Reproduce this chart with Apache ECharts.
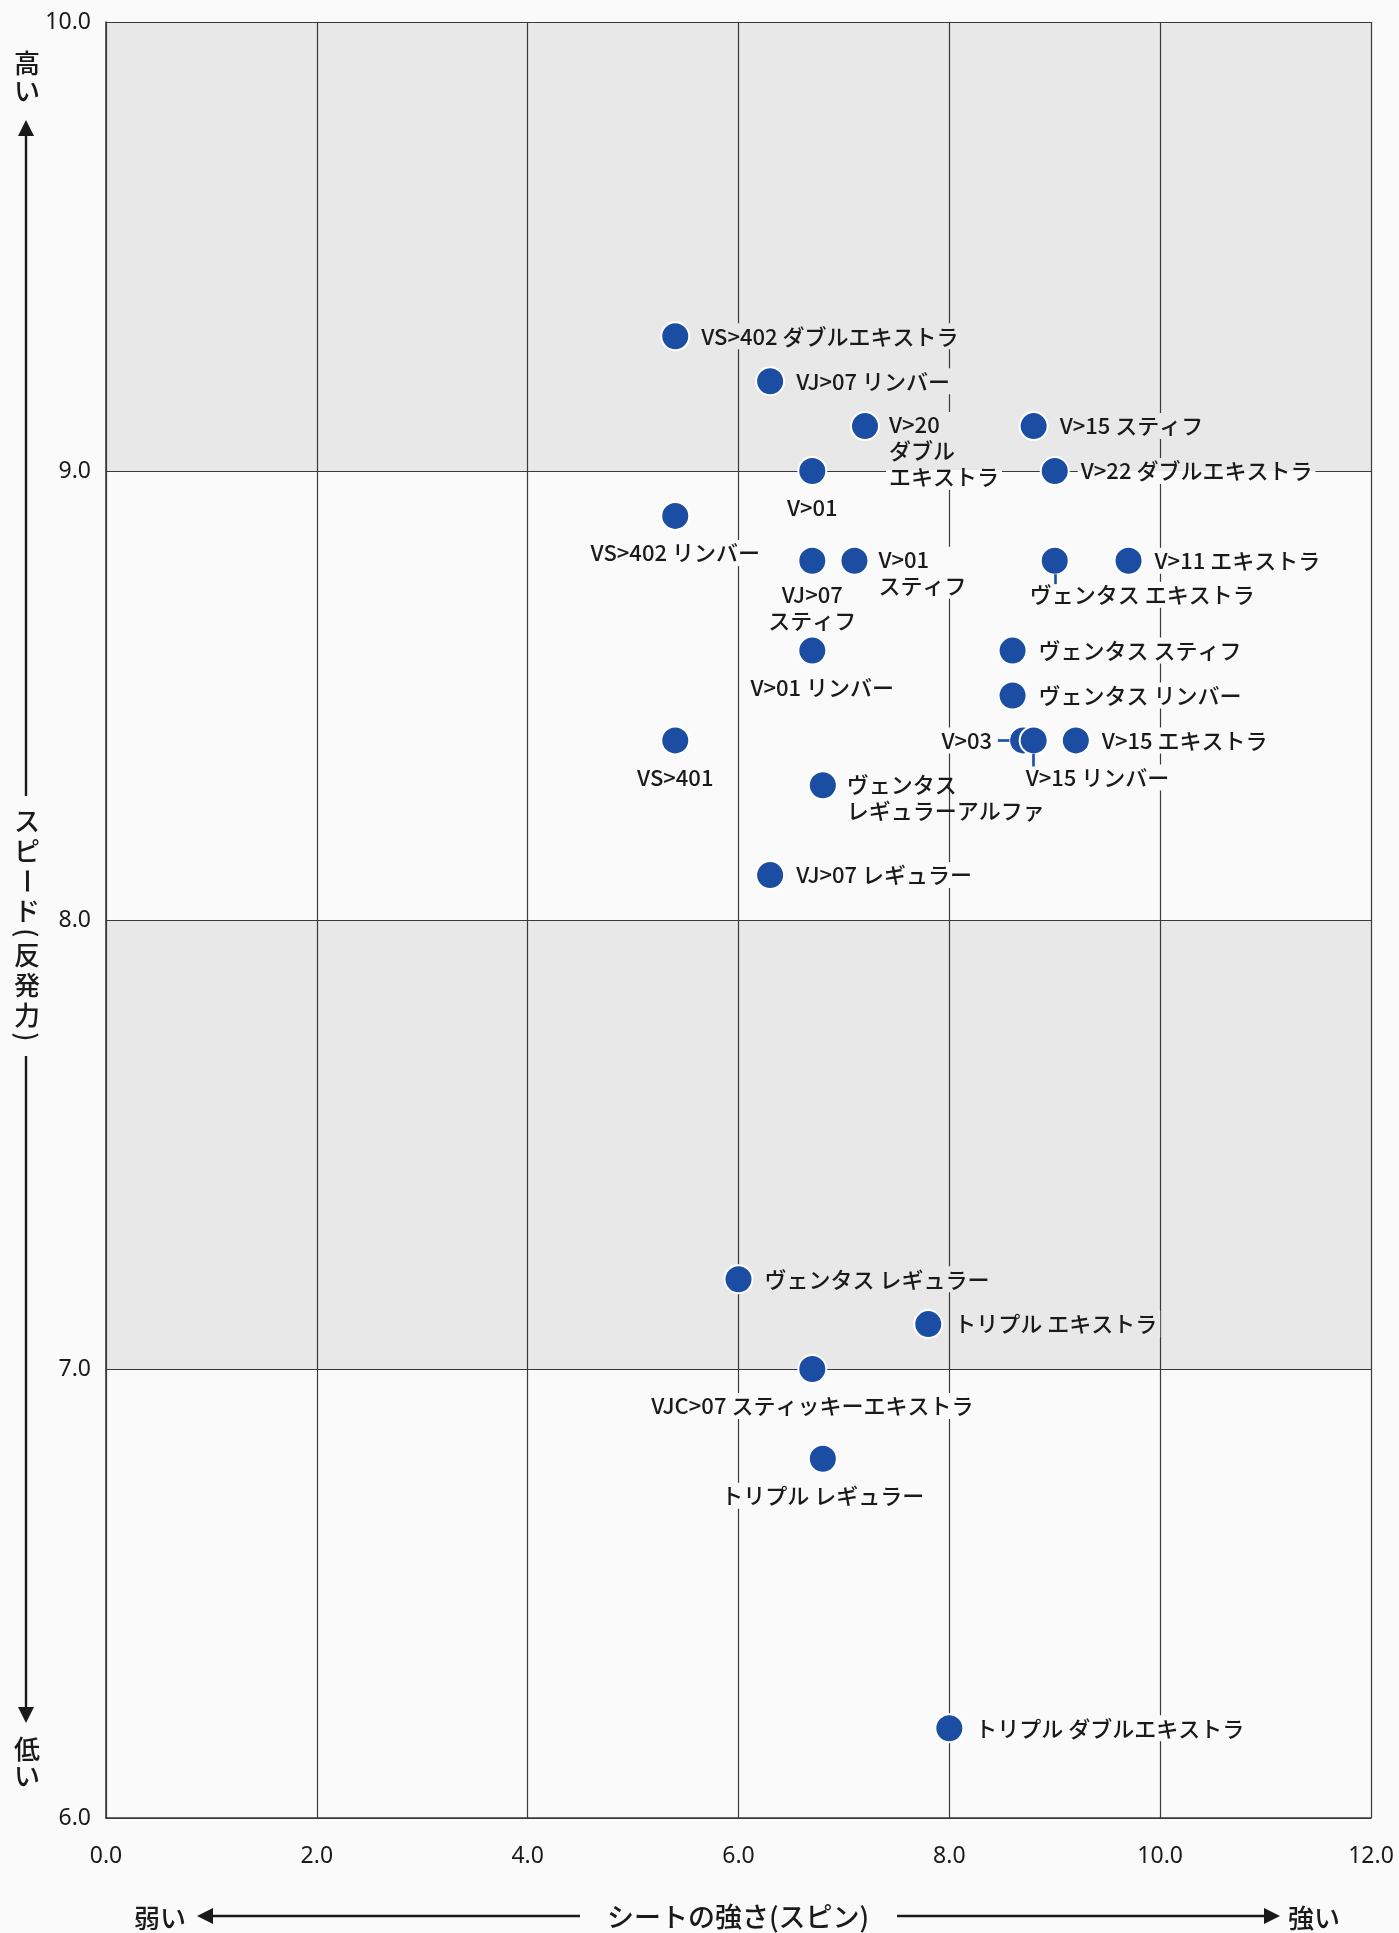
<!DOCTYPE html>
<html>
<head>
<meta charset="utf-8">
<script src="https://cdn.jsdelivr.net/npm/echarts@6/dist/echarts.min.js"></script>
<style>
html,body{margin:0;padding:0;background:#fafafa;}
#chart{width:1399px;height:1933px;}
</style>
</head>
<body>
<div id="chart"></div>
<script>
// ---------- data ----------
const names = [
  'VS>402 ダブルエキストラ',
  'VJ>07 リンバー',
  'V>20\nダブル\nエキストラ',
  'V>15 スティフ',
  'V>22 ダブルエキストラ',
  'V>01',
  'VS>402 リンバー',
  'VJ>07\nスティフ',
  'V>01\nスティフ',
  'ヴェンタス エキストラ',
  'V>11 エキストラ',
  'V>01 リンバー',
  'ヴェンタス スティフ',
  'ヴェンタス リンバー',
  'VS>401',
  'V>03',
  'V>15 リンバー',
  'V>15 エキストラ',
  'ヴェンタス\nレギュラーアルファ',
  'VJ>07 レギュラー',
  'ヴェンタス レギュラー',
  'トリプル エキストラ',
  'VJC>07 スティッキーエキストラ',
  'トリプル レギュラー',
  'トリプル ダブルエキストラ'
];
const spin  = [5.4, 6.3, 7.2, 8.8, 9.0, 6.7, 5.4, 6.7, 7.1, 9.0, 9.7, 6.7, 8.6, 8.6, 5.4, 8.7, 8.8, 9.2, 6.8, 6.3, 6.0, 7.8, 6.7, 6.8, 8.0];
const speed = [9.3, 9.2, 9.1, 9.1, 9.0, 9.0, 8.9, 8.8, 8.8, 8.8, 8.8, 8.6, 8.6, 8.5, 8.4, 8.4, 8.4, 8.4, 8.3, 8.1, 7.2, 7.1, 7.0, 6.8, 6.2];
const xTickLabels = ['0.0', '2.0', '4.0', '6.0', '8.0', '10.0', '12.0'];
const yTickLabels = ['6.0', '7.0', '8.0', '9.0', '10.0'];
const xTitle = 'シートの強さ(スピン)';
const xLow = '弱い', xHigh = '強い';
const yTitleChars = ['ス', 'ピ', 'ー', 'ド', '(', '反', '発', '力', ')'];
const yHigh = ['高', 'い'], yLow = ['低', 'い'];
const shadedBands = [[9, 10], [7, 8]];

// ---------- styles ----------
const BLUE = '#1b4ea3';
const BAND = '#e8e8e8';
const WHITE = '#fafafa';
const GRID = '#3a3a3a';
const LABEL_FONT = '"Noto Sans CJK JP", "Noto Sans", sans-serif';
const NUM_FONT = '"Noto Sans", "Open Sans", sans-serif';
const GRID_BOX = {left: 106, top: 22, right: 28, bottom: 115};
const PX_PER_Y = (1933 - GRID_BOX.top - GRID_BOX.bottom) / 4;
const LINE_H = 26;

// label placements (style, keyed by name)
const placement = {
  'V>20\nダブル\nエキストラ': {type: 'multi'},
  'V>01': {type: 'bottom'},
  'VS>402 リンバー': {type: 'bottom'},
  'VJ>07\nスティフ': {type: 'bottom', distance: 6},
  'V>01\nスティフ': {type: 'multi'},
  'ヴェンタス エキストラ': {type: 'custom', pos: [-13, 36]},
  'V>01 リンバー': {type: 'bottom', offset: [10, 0]},
  'VS>401': {type: 'bottom'},
  'V>03': {type: 'left'},
  'V>15 リンバー': {type: 'custom', pos: [4, 39]},
  'ヴェンタス\nレギュラーアルファ': {type: 'multi', noBg: true},
  'VJC>07 スティッキーエキストラ': {type: 'bottom'},
  'トリプル レギュラー': {type: 'bottom'}
};
// leader lines: [dx0, dy0, dx1, dy1] in axis units relative to the point
const leaders = {
  'ヴェンタス エキストラ': [0, -0.03, 0, -0.052],
  'V>15 リンバー': [0, -0.03, 0, -0.058],
  'V>03': [-0.13, 0, -0.24, 0]
};

function inBand(v) {
  return shadedBands.some(b => v >= b[0] && v < b[1]);
}
function bandBackground(yTop, yBot) {
  const cuts = [];
  for (let k = Math.ceil(yBot); k <= Math.floor(yTop); k++) {
    if (k > yBot && k < yTop) cuts.push(k);
  }
  if (!cuts.length) return inBand((yTop + yBot) / 2) ? BAND : WHITE;
  const span = yTop - yBot;
  const edges = [yTop].concat(cuts.sort((a, b) => b - a)).concat([yBot]);
  const stops = [];
  for (let s = 0; s < edges.length - 1; s++) {
    const c = inBand((edges[s] + edges[s + 1]) / 2) ? BAND : WHITE;
    stops.push({offset: (yTop - edges[s]) / span, color: c});
    stops.push({offset: (yTop - edges[s + 1]) / span, color: c});
  }
  return new echarts.graphic.LinearGradient(0, 0, 0, 1, stops);
}

const points = names.map((n, i) => {
  const p = placement[n] || {type: 'right'};
  const nLines = n.split('\n').length;
  const h = nLines * LINE_H;
  const label = {
    show: true,
    formatter: n,
    fontFamily: LABEL_FONT,
    fontSize: 22,
    fontWeight: 500,
    lineHeight: LINE_H,
    color: '#1a1a1a',
    padding: [0, 3]
  };
  let top;
  if (p.type === 'right') { label.position = 'right'; label.distance = 8; top = -h / 2; }
  else if (p.type === 'left') { label.position = 'left'; label.distance = 13; top = -h / 2; }
  else if (p.type === 'bottom') {
    label.position = 'bottom'; label.distance = p.distance != null ? p.distance : 9;
    if (p.offset) label.offset = p.offset;
    top = 14 + label.distance;
  } else if (p.type === 'multi') {
    label.position = [36, 1]; label.align = 'left'; label.verticalAlign = 'top';
    top = -13;
  } else {
    label.position = p.pos; label.align = 'left'; label.verticalAlign = 'top';
    top = -14 + p.pos[1];
  }
  if (!p.noBg) {
    const yTop = speed[i] - top / PX_PER_Y;
    const yBot = speed[i] - (top + h) / PX_PER_Y;
    label.backgroundColor = bandBackground(yTop, yBot);
  }
  return {name: n, value: [spin[i], speed[i]], label};
});

const leaderData = [];
names.forEach((n, i) => {
  const L = leaders[n];
  if (L) {
    leaderData.push([
      {coord: [spin[i] + L[0], speed[i] + L[1]]},
      {coord: [spin[i] + L[2], speed[i] + L[3]]}
    ]);
  }
});

const chart = echarts.init(document.getElementById('chart'), null, {renderer: 'canvas'});

const axisCommon = {
  z: 3,
  axisLine: {show: true, lineStyle: {color: GRID, width: 1.6}},
  axisTick: {show: false},
  splitLine: {show: true, lineStyle: {color: GRID, width: 1.2}}
};

const graphics = [];
const yx = 26;
function vtext(ch, y, rot) {
  graphics.push({
    type: 'text', x: yx + 1, y: y, rotation: rot || 0,
    style: {text: ch, fontSize: 26, fontWeight: 500, fontFamily: LABEL_FONT, fill: '#1a1a1a',
            textAlign: 'center', textVerticalAlign: 'middle'}
  });
}
vtext(yHigh[0], 63); vtext(yHigh[1], 91);
vtext(yLow[0], 1749); vtext(yLow[1], 1776);
let cy = 806;
yTitleChars.forEach(ch => {
  const isParen = ch === '(' || ch === ')';
  const rot = (ch === 'ー' || isParen) ? -Math.PI / 2 : 0;
  const h = isParen ? 14 : 30;
  vtext(ch, cy + h / 2, rot);
  cy += h;
});
const lineStyle = {stroke: '#1a1a1a', lineWidth: 2.4};
graphics.push({type: 'line', shape: {x1: yx, y1: 134, x2: yx, y2: 796}, style: lineStyle});
graphics.push({type: 'line', shape: {x1: yx, y1: 1056, x2: yx, y2: 1708}, style: lineStyle});
graphics.push({type: 'polygon', shape: {points: [[yx, 120], [yx - 8, 136], [yx + 8, 136]]}, style: {fill: '#1a1a1a'}});
graphics.push({type: 'polygon', shape: {points: [[yx, 1723], [yx - 8, 1707], [yx + 8, 1707]]}, style: {fill: '#1a1a1a'}});
const xy = 1916;
graphics.push({type: 'text', x: 738, y: xy + 1,
  style: {text: xTitle, fontSize: 27, fontWeight: 500, fontFamily: LABEL_FONT, fill: '#1a1a1a', textAlign: 'center', textVerticalAlign: 'middle'}});
graphics.push({type: 'text', x: 160, y: xy + 2,
  style: {text: xLow, fontSize: 26, fontWeight: 500, fontFamily: LABEL_FONT, fill: '#1a1a1a', textAlign: 'center', textVerticalAlign: 'middle'}});
graphics.push({type: 'text', x: 1314, y: xy + 2,
  style: {text: xHigh, fontSize: 26, fontWeight: 500, fontFamily: LABEL_FONT, fill: '#1a1a1a', textAlign: 'center', textVerticalAlign: 'middle'}});
graphics.push({type: 'line', shape: {x1: 212, y1: xy, x2: 580, y2: xy}, style: lineStyle});
graphics.push({type: 'line', shape: {x1: 897, y1: xy, x2: 1264, y2: xy}, style: lineStyle});
graphics.push({type: 'polygon', shape: {points: [[197, xy], [213, xy - 8], [213, xy + 8]]}, style: {fill: '#1a1a1a'}});
graphics.push({type: 'polygon', shape: {points: [[1280, xy], [1264, xy - 8], [1264, xy + 8]]}, style: {fill: '#1a1a1a'}});

chart.setOption({
  animation: false,
  backgroundColor: WHITE,
  grid: Object.assign({containLabel: false}, GRID_BOX),
  xAxis: Object.assign({
    type: 'value', min: 0, max: 12, interval: 2,
    axisLabel: {
      margin: 27, fontSize: 23, fontFamily: NUM_FONT, color: '#1a1a1a',
      formatter: v => xTickLabels[Math.round(v / 2)]
    }
  }, axisCommon),
  yAxis: Object.assign({
    type: 'value', min: 6, max: 10, interval: 1,
    axisLabel: {
      margin: 15, fontSize: 23, fontFamily: NUM_FONT, color: '#1a1a1a',
      formatter: v => yTickLabels[Math.round(v - 6)]
    }
  }, axisCommon),
  graphic: graphics,
  series: [
    {
      type: 'scatter', data: [], z: 0, silent: true,
      markArea: {
        silent: true, z: 0,
        itemStyle: {color: BAND},
        data: shadedBands.map(b => [{yAxis: b[0]}, {yAxis: b[1]}])
      }
    },
    {
      type: 'scatter', z: 10,
      symbol: 'circle', symbolSize: 28,
      itemStyle: {color: BLUE, borderColor: '#ffffff', borderWidth: 2, opacity: 1},
      data: points
    },
    {
      type: 'scatter', data: [], z: 12, silent: true,
      markLine: {
        silent: true, symbol: 'none', z: 12,
        label: {show: false},
        lineStyle: {color: BLUE, width: 2.6, type: 'solid'},
        data: leaderData
      }
    }
  ]
});
</script>
</body>
</html>
